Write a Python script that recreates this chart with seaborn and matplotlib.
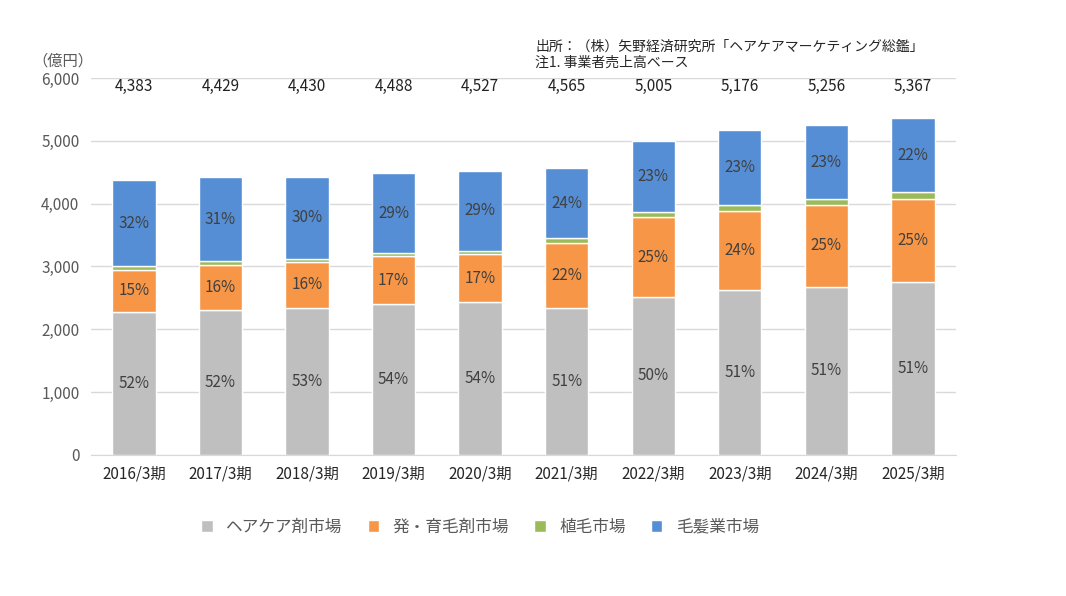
import numpy as np
import matplotlib
matplotlib.use("Agg")
import matplotlib.pyplot as plt
import seaborn as sns

years = ["2016/3期", "2017/3期", "2018/3期", "2019/3期", "2020/3期",
         "2021/3期", "2022/3期", "2023/3期", "2024/3期", "2025/3期"]
total = [4383, 4429, 4430, 4488, 4527, 4565, 5005, 5176, 5256, 5367]
haircare = [2270, 2310, 2340, 2400, 2430, 2340, 2510, 2620, 2680, 2750]
growth = [680, 720, 730, 760, 770, 1030, 1270, 1270, 1300, 1330]
transplant = [50, 50, 50, 50, 50, 80, 80, 90, 90, 100]
salon = [1383, 1349, 1310, 1278, 1277, 1115, 1145, 1196, 1186, 1187]
pct_haircare = [52, 52, 53, 54, 54, 51, 50, 51, 51, 51]
pct_growth = [15, 16, 16, 17, 17, 22, 25, 24, 25, 25]
pct_salon = [32, 31, 30, 29, 29, 24, 23, 23, 23, 22]
series_names = ["ヘアケア剤市場", "発・育毛剤市場", "植毛市場", "毛髪業市場"]
colors = ["#BFBFBF", "#F79646", "#9BBB59", "#558ED5"]

sns.set_style("white")
plt.rcParams['font.family'] = ['Noto Sans CJK JP', 'DejaVu Sans']

fig = plt.figure(figsize=(10.66, 5.96), dpi=100)
ax = fig.add_axes([0.085, 0.237, 0.812, 0.632])

x = np.arange(len(years))
bottom = np.zeros(len(years))
for vals, name, col in zip([haircare, growth, transplant, salon], series_names, colors):
    sns.barplot(x=x, y=vals, bottom=bottom, color=col, width=0.5,
                label=name, ax=ax, saturation=1, native_scale=True)
    bottom = bottom + np.array(vals)

hb = np.array(haircare)
gb = hb + np.array(growth)
sb = gb + np.array(transplant)
for i in x:
    ax.text(i, hb[i] / 2, f"{pct_haircare[i]}%", ha="center", va="center", fontsize=11, color="#404040")
    ax.text(i, hb[i] + growth[i] / 2, f"{pct_growth[i]}%", ha="center", va="center", fontsize=11, color="#404040")
    ax.text(i, sb[i] + salon[i] / 2, f"{pct_salon[i]}%", ha="center", va="center", fontsize=11, color="#404040")
    ax.text(i, 5870, f"{total[i]:,}", ha="center", va="center", fontsize=11, color="#222222")

ax.set_ylim(0, 6000)
ax.set_xlim(-0.5, len(years) - 0.5)
ax.set_yticks(range(0, 6001, 1000))
ax.set_yticklabels([f"{v:,}" for v in range(0, 6001, 1000)], fontsize=11, color="#595959")
ax.set_xticks(x)
ax.set_xticklabels(years, fontsize=11)
ax.yaxis.grid(True, color="#D9D9D9", linewidth=1)
ax.set_axisbelow(True)
for s in ["top", "right", "left"]:
    ax.spines[s].set_visible(False)
ax.spines["bottom"].set_color("#D9D9D9")
ax.tick_params(length=0, pad=8)

fig.text(0.03, 0.89, "（億円）", fontsize=11, color="#595959")
fig.text(0.502, 0.915, "出所：（株）矢野経済研究所「ヘアケアマーケティング総鑑」", fontsize=10)
fig.text(0.502, 0.888, "注1. 事業者売上高ベース", fontsize=10)

ax.legend(loc="upper center", bbox_to_anchor=(0.45, -0.13), ncol=4, frameon=False,
          fontsize=12, handlelength=0.7, handleheight=0.7, columnspacing=1.5,
          labelcolor="#595959")

fig.savefig("out.png", dpi=100)
